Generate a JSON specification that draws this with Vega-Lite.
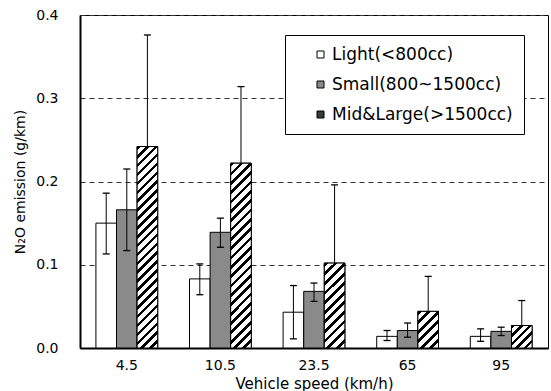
{
  "$schema": "https://vega.github.io/schema/vega-lite/v6.json",
  "width": 468,
  "height": 333,
  "autosize": "none",
  "padding": {"left": 80, "top": 15, "right": 3, "bottom": 43},
  "background": "white",
  "config": {
    "font": "DejaVu Sans",
    "view": {"stroke": "black", "strokeWidth": 1}
  },
  "data": {
    "values": [
      {"speed": "4.5", "type": "Light(<800cc)", "value": 0.150, "lo": 0.113, "hi": 0.186},
      {"speed": "4.5", "type": "Small(800~1500cc)", "value": 0.166, "lo": 0.117, "hi": 0.215},
      {"speed": "4.5", "type": "Mid&Large(>1500cc)", "value": 0.242, "lo": 0.108, "hi": 0.376},
      {"speed": "10.5", "type": "Light(<800cc)", "value": 0.083, "lo": 0.064, "hi": 0.101},
      {"speed": "10.5", "type": "Small(800~1500cc)", "value": 0.139, "lo": 0.121, "hi": 0.156},
      {"speed": "10.5", "type": "Mid&Large(>1500cc)", "value": 0.222, "lo": 0.130, "hi": 0.314},
      {"speed": "23.5", "type": "Light(<800cc)", "value": 0.043, "lo": 0.011, "hi": 0.075},
      {"speed": "23.5", "type": "Small(800~1500cc)", "value": 0.068, "lo": 0.056, "hi": 0.078},
      {"speed": "23.5", "type": "Mid&Large(>1500cc)", "value": 0.102, "lo": 0.008, "hi": 0.196},
      {"speed": "65", "type": "Light(<800cc)", "value": 0.014, "lo": 0.009, "hi": 0.021},
      {"speed": "65", "type": "Small(800~1500cc)", "value": 0.021, "lo": 0.013, "hi": 0.030},
      {"speed": "65", "type": "Mid&Large(>1500cc)", "value": 0.044, "lo": 0.002, "hi": 0.086},
      {"speed": "95", "type": "Light(<800cc)", "value": 0.014, "lo": 0.008, "hi": 0.023},
      {"speed": "95", "type": "Small(800~1500cc)", "value": 0.020, "lo": 0.015, "hi": 0.025},
      {"speed": "95", "type": "Mid&Large(>1500cc)", "value": 0.027, "lo": 0.000, "hi": 0.057}
    ]
  },
  "encoding": {
    "x": {
      "field": "speed", "type": "nominal",
      "sort": ["4.5", "10.5", "23.5", "65", "95"],
      "scale": {"paddingInner": 0.34, "paddingOuter": 0.17},
      "axis": {
        "title": "Vehicle speed (km/h)", "labelAngle": 0, "labelFontSize": 14,
        "titleFontSize": 15, "titleFontWeight": "normal", "titlePadding": 4,
        "ticks": false, "labelPadding": 10, "domainWidth": 2, "domainColor": "black",
        "labelColor": "black", "titleColor": "black"
      }
    },
    "xOffset": {
      "field": "type", "type": "nominal",
      "scale": {"domain": ["Light(<800cc)", "Small(800~1500cc)", "Mid&Large(>1500cc)"], "paddingInner": 0, "paddingOuter": 0}
    }
  },
  "layer": [
    {
      "mark": {"type": "bar", "stroke": "black", "strokeWidth": 1},
      "encoding": {
        "y": {
          "field": "value", "type": "quantitative",
          "scale": {"domain": [0, 0.4], "nice": false},
          "axis": {
            "title": "N₂O emission (g/km)", "titleFontSize": 14, "titleFontWeight": "normal",
            "titlePadding": 8, "values": [0, 0.1, 0.2, 0.3, 0.4], "format": ".1f",
            "labelFontSize": 14, "ticks": false, "labelPadding": 22,
            "grid": true, "gridDash": [5, 4], "gridColor": "#333", "gridWidth": 1,
            "domainWidth": 2, "domainColor": "black", "labelColor": "black", "titleColor": "black"
          }
        },
        "fill": {
          "field": "type", "type": "nominal",
          "scale": {
            "domain": ["Light(<800cc)", "Small(800~1500cc)", "Mid&Large(>1500cc)"],
            "range": ["white", "#8a8a8a", "#3a3a3a"]
          },
          "legend": {
            "orient": "none", "legendX": 205, "legendY": 20, "title": null,
            "strokeColor": "black", "fillColor": "white", "padding": 11,
            "symbolType": "square", "symbolSize": 49, "symbolStrokeColor": "black",
            "symbolStrokeWidth": 1, "symbolOffset": 16, "labelFontSize": 17,
            "labelColor": "black", "rowPadding": 12, "labelOffset": 3, "labelLimit": 300
          }
        }
      }
    },
    {
      "transform": [{"filter": {"and": [{"field": "type", "equal": "Mid&Large(>1500cc)"}, {"field": "speed", "equal": "4.5"}]}}],
      "mark": {"type": "bar", "stroke": "black", "strokeWidth": 1, "fill": {"gradient": "linear", "x1": 0, "y1": 0, "x2": 0.1115, "y2": 1.0908, "stops": [
        {"offset": 0, "color": "#000"}, {"offset": 0.016, "color": "#000"}, {"offset": 0.016, "color": "#fff"}, {"offset": 0.04, "color": "#fff"},
        {"offset": 0.04, "color": "#000"}, {"offset": 0.056, "color": "#000"}, {"offset": 0.056, "color": "#fff"}, {"offset": 0.08, "color": "#fff"},
        {"offset": 0.08, "color": "#000"}, {"offset": 0.096, "color": "#000"}, {"offset": 0.096, "color": "#fff"}, {"offset": 0.12, "color": "#fff"},
        {"offset": 0.12, "color": "#000"}, {"offset": 0.136, "color": "#000"}, {"offset": 0.136, "color": "#fff"}, {"offset": 0.16, "color": "#fff"},
        {"offset": 0.16, "color": "#000"}, {"offset": 0.176, "color": "#000"}, {"offset": 0.176, "color": "#fff"}, {"offset": 0.2, "color": "#fff"},
        {"offset": 0.2, "color": "#000"}, {"offset": 0.216, "color": "#000"}, {"offset": 0.216, "color": "#fff"}, {"offset": 0.24, "color": "#fff"},
        {"offset": 0.24, "color": "#000"}, {"offset": 0.256, "color": "#000"}, {"offset": 0.256, "color": "#fff"}, {"offset": 0.28, "color": "#fff"},
        {"offset": 0.28, "color": "#000"}, {"offset": 0.296, "color": "#000"}, {"offset": 0.296, "color": "#fff"}, {"offset": 0.32, "color": "#fff"},
        {"offset": 0.32, "color": "#000"}, {"offset": 0.336, "color": "#000"}, {"offset": 0.336, "color": "#fff"}, {"offset": 0.36, "color": "#fff"},
        {"offset": 0.36, "color": "#000"}, {"offset": 0.376, "color": "#000"}, {"offset": 0.376, "color": "#fff"}, {"offset": 0.4, "color": "#fff"},
        {"offset": 0.4, "color": "#000"}, {"offset": 0.416, "color": "#000"}, {"offset": 0.416, "color": "#fff"}, {"offset": 0.44, "color": "#fff"},
        {"offset": 0.44, "color": "#000"}, {"offset": 0.456, "color": "#000"}, {"offset": 0.456, "color": "#fff"}, {"offset": 0.48, "color": "#fff"},
        {"offset": 0.48, "color": "#000"}, {"offset": 0.496, "color": "#000"}, {"offset": 0.496, "color": "#fff"}, {"offset": 0.52, "color": "#fff"},
        {"offset": 0.52, "color": "#000"}, {"offset": 0.536, "color": "#000"}, {"offset": 0.536, "color": "#fff"}, {"offset": 0.56, "color": "#fff"},
        {"offset": 0.56, "color": "#000"}, {"offset": 0.576, "color": "#000"}, {"offset": 0.576, "color": "#fff"}, {"offset": 0.6, "color": "#fff"},
        {"offset": 0.6, "color": "#000"}, {"offset": 0.616, "color": "#000"}, {"offset": 0.616, "color": "#fff"}, {"offset": 0.64, "color": "#fff"},
        {"offset": 0.64, "color": "#000"}, {"offset": 0.656, "color": "#000"}, {"offset": 0.656, "color": "#fff"}, {"offset": 0.68, "color": "#fff"},
        {"offset": 0.68, "color": "#000"}, {"offset": 0.696, "color": "#000"}, {"offset": 0.696, "color": "#fff"}, {"offset": 0.72, "color": "#fff"},
        {"offset": 0.72, "color": "#000"}, {"offset": 0.736, "color": "#000"}, {"offset": 0.736, "color": "#fff"}, {"offset": 0.76, "color": "#fff"},
        {"offset": 0.76, "color": "#000"}, {"offset": 0.776, "color": "#000"}, {"offset": 0.776, "color": "#fff"}, {"offset": 0.8, "color": "#fff"},
        {"offset": 0.8, "color": "#000"}, {"offset": 0.816, "color": "#000"}, {"offset": 0.816, "color": "#fff"}, {"offset": 0.84, "color": "#fff"},
        {"offset": 0.84, "color": "#000"}, {"offset": 0.856, "color": "#000"}, {"offset": 0.856, "color": "#fff"}, {"offset": 0.88, "color": "#fff"},
        {"offset": 0.88, "color": "#000"}, {"offset": 0.896, "color": "#000"}, {"offset": 0.896, "color": "#fff"}, {"offset": 0.92, "color": "#fff"},
        {"offset": 0.92, "color": "#000"}, {"offset": 0.936, "color": "#000"}, {"offset": 0.936, "color": "#fff"}, {"offset": 0.96, "color": "#fff"},
        {"offset": 0.96, "color": "#000"}, {"offset": 0.976, "color": "#000"}, {"offset": 0.976, "color": "#fff"}, {"offset": 1, "color": "#fff"}
      ]}},
      "encoding": {"y": {"field": "value", "type": "quantitative"}}
    },
    {
      "transform": [{"filter": {"and": [{"field": "type", "equal": "Mid&Large(>1500cc)"}, {"field": "speed", "equal": "10.5"}]}}],
      "mark": {"type": "bar", "stroke": "black", "strokeWidth": 1, "fill": {"gradient": "linear", "x1": 0, "y1": 0, "x2": 0.1224, "y2": 1.0978, "stops": [
        {"offset": 0, "color": "#000"}, {"offset": 0.01818, "color": "#000"}, {"offset": 0.01818, "color": "#fff"}, {"offset": 0.04545, "color": "#fff"},
        {"offset": 0.04545, "color": "#000"}, {"offset": 0.06364, "color": "#000"}, {"offset": 0.06364, "color": "#fff"}, {"offset": 0.09091, "color": "#fff"},
        {"offset": 0.09091, "color": "#000"}, {"offset": 0.10909, "color": "#000"}, {"offset": 0.10909, "color": "#fff"}, {"offset": 0.13636, "color": "#fff"},
        {"offset": 0.13636, "color": "#000"}, {"offset": 0.15455, "color": "#000"}, {"offset": 0.15455, "color": "#fff"}, {"offset": 0.18182, "color": "#fff"},
        {"offset": 0.18182, "color": "#000"}, {"offset": 0.2, "color": "#000"}, {"offset": 0.2, "color": "#fff"}, {"offset": 0.22727, "color": "#fff"},
        {"offset": 0.22727, "color": "#000"}, {"offset": 0.24545, "color": "#000"}, {"offset": 0.24545, "color": "#fff"}, {"offset": 0.27273, "color": "#fff"},
        {"offset": 0.27273, "color": "#000"}, {"offset": 0.29091, "color": "#000"}, {"offset": 0.29091, "color": "#fff"}, {"offset": 0.31818, "color": "#fff"},
        {"offset": 0.31818, "color": "#000"}, {"offset": 0.33636, "color": "#000"}, {"offset": 0.33636, "color": "#fff"}, {"offset": 0.36364, "color": "#fff"},
        {"offset": 0.36364, "color": "#000"}, {"offset": 0.38182, "color": "#000"}, {"offset": 0.38182, "color": "#fff"}, {"offset": 0.40909, "color": "#fff"},
        {"offset": 0.40909, "color": "#000"}, {"offset": 0.42727, "color": "#000"}, {"offset": 0.42727, "color": "#fff"}, {"offset": 0.45455, "color": "#fff"},
        {"offset": 0.45455, "color": "#000"}, {"offset": 0.47273, "color": "#000"}, {"offset": 0.47273, "color": "#fff"}, {"offset": 0.5, "color": "#fff"},
        {"offset": 0.5, "color": "#000"}, {"offset": 0.51818, "color": "#000"}, {"offset": 0.51818, "color": "#fff"}, {"offset": 0.54545, "color": "#fff"},
        {"offset": 0.54545, "color": "#000"}, {"offset": 0.56364, "color": "#000"}, {"offset": 0.56364, "color": "#fff"}, {"offset": 0.59091, "color": "#fff"},
        {"offset": 0.59091, "color": "#000"}, {"offset": 0.60909, "color": "#000"}, {"offset": 0.60909, "color": "#fff"}, {"offset": 0.63636, "color": "#fff"},
        {"offset": 0.63636, "color": "#000"}, {"offset": 0.65455, "color": "#000"}, {"offset": 0.65455, "color": "#fff"}, {"offset": 0.68182, "color": "#fff"},
        {"offset": 0.68182, "color": "#000"}, {"offset": 0.7, "color": "#000"}, {"offset": 0.7, "color": "#fff"}, {"offset": 0.72727, "color": "#fff"},
        {"offset": 0.72727, "color": "#000"}, {"offset": 0.74545, "color": "#000"}, {"offset": 0.74545, "color": "#fff"}, {"offset": 0.77273, "color": "#fff"},
        {"offset": 0.77273, "color": "#000"}, {"offset": 0.79091, "color": "#000"}, {"offset": 0.79091, "color": "#fff"}, {"offset": 0.81818, "color": "#fff"},
        {"offset": 0.81818, "color": "#000"}, {"offset": 0.83636, "color": "#000"}, {"offset": 0.83636, "color": "#fff"}, {"offset": 0.86364, "color": "#fff"},
        {"offset": 0.86364, "color": "#000"}, {"offset": 0.88182, "color": "#000"}, {"offset": 0.88182, "color": "#fff"}, {"offset": 0.90909, "color": "#fff"},
        {"offset": 0.90909, "color": "#000"}, {"offset": 0.92727, "color": "#000"}, {"offset": 0.92727, "color": "#fff"}, {"offset": 0.95455, "color": "#fff"},
        {"offset": 0.95455, "color": "#000"}, {"offset": 0.97273, "color": "#000"}, {"offset": 0.97273, "color": "#fff"}, {"offset": 1, "color": "#fff"}
      ]}},
      "encoding": {"y": {"field": "value", "type": "quantitative"}}
    },
    {
      "transform": [{"filter": {"and": [{"field": "type", "equal": "Mid&Large(>1500cc)"}, {"field": "speed", "equal": "23.5"}]}}],
      "mark": {"type": "bar", "stroke": "black", "strokeWidth": 1, "fill": {"gradient": "linear", "x1": 0, "y1": 0, "x2": 0.2832, "y2": 1.173, "stops": [
        {"offset": 0, "color": "#000"}, {"offset": 0.03636, "color": "#000"}, {"offset": 0.03636, "color": "#fff"}, {"offset": 0.09091, "color": "#fff"},
        {"offset": 0.09091, "color": "#000"}, {"offset": 0.12727, "color": "#000"}, {"offset": 0.12727, "color": "#fff"}, {"offset": 0.18182, "color": "#fff"},
        {"offset": 0.18182, "color": "#000"}, {"offset": 0.21818, "color": "#000"}, {"offset": 0.21818, "color": "#fff"}, {"offset": 0.27273, "color": "#fff"},
        {"offset": 0.27273, "color": "#000"}, {"offset": 0.30909, "color": "#000"}, {"offset": 0.30909, "color": "#fff"}, {"offset": 0.36364, "color": "#fff"},
        {"offset": 0.36364, "color": "#000"}, {"offset": 0.4, "color": "#000"}, {"offset": 0.4, "color": "#fff"}, {"offset": 0.45455, "color": "#fff"},
        {"offset": 0.45455, "color": "#000"}, {"offset": 0.49091, "color": "#000"}, {"offset": 0.49091, "color": "#fff"}, {"offset": 0.54545, "color": "#fff"},
        {"offset": 0.54545, "color": "#000"}, {"offset": 0.58182, "color": "#000"}, {"offset": 0.58182, "color": "#fff"}, {"offset": 0.63636, "color": "#fff"},
        {"offset": 0.63636, "color": "#000"}, {"offset": 0.67273, "color": "#000"}, {"offset": 0.67273, "color": "#fff"}, {"offset": 0.72727, "color": "#fff"},
        {"offset": 0.72727, "color": "#000"}, {"offset": 0.76364, "color": "#000"}, {"offset": 0.76364, "color": "#fff"}, {"offset": 0.81818, "color": "#fff"},
        {"offset": 0.81818, "color": "#000"}, {"offset": 0.85455, "color": "#000"}, {"offset": 0.85455, "color": "#fff"}, {"offset": 0.90909, "color": "#fff"},
        {"offset": 0.90909, "color": "#000"}, {"offset": 0.94545, "color": "#000"}, {"offset": 0.94545, "color": "#fff"}, {"offset": 1, "color": "#fff"}
      ]}},
      "encoding": {"y": {"field": "value", "type": "quantitative"}}
    },
    {
      "transform": [{"filter": {"and": [{"field": "type", "equal": "Mid&Large(>1500cc)"}, {"field": "speed", "equal": "65"}]}}],
      "mark": {"type": "bar", "stroke": "black", "strokeWidth": 1, "fill": {"gradient": "linear", "x1": 0, "y1": 0, "x2": 0.6675, "y2": 1.1868, "stops": [
        {"offset": 0, "color": "#000"}, {"offset": 0.06667, "color": "#000"}, {"offset": 0.06667, "color": "#fff"}, {"offset": 0.16667, "color": "#fff"},
        {"offset": 0.16667, "color": "#000"}, {"offset": 0.23333, "color": "#000"}, {"offset": 0.23333, "color": "#fff"}, {"offset": 0.33333, "color": "#fff"},
        {"offset": 0.33333, "color": "#000"}, {"offset": 0.4, "color": "#000"}, {"offset": 0.4, "color": "#fff"}, {"offset": 0.5, "color": "#fff"},
        {"offset": 0.5, "color": "#000"}, {"offset": 0.56667, "color": "#000"}, {"offset": 0.56667, "color": "#fff"}, {"offset": 0.66667, "color": "#fff"},
        {"offset": 0.66667, "color": "#000"}, {"offset": 0.73333, "color": "#000"}, {"offset": 0.73333, "color": "#fff"}, {"offset": 0.83333, "color": "#fff"},
        {"offset": 0.83333, "color": "#000"}, {"offset": 0.9, "color": "#000"}, {"offset": 0.9, "color": "#fff"}, {"offset": 1, "color": "#fff"}
      ]}},
      "encoding": {"y": {"field": "value", "type": "quantitative"}}
    },
    {
      "transform": [{"filter": {"and": [{"field": "type", "equal": "Mid&Large(>1500cc)"}, {"field": "speed", "equal": "95"}]}}],
      "mark": {"type": "bar", "stroke": "black", "strokeWidth": 1, "fill": {"gradient": "linear", "x1": 0, "y1": 0, "x2": 0.9544, "y2": 1.0413, "stops": [
        {"offset": 0, "color": "#000"}, {"offset": 0.08, "color": "#000"}, {"offset": 0.08, "color": "#fff"}, {"offset": 0.2, "color": "#fff"},
        {"offset": 0.2, "color": "#000"}, {"offset": 0.28, "color": "#000"}, {"offset": 0.28, "color": "#fff"}, {"offset": 0.4, "color": "#fff"},
        {"offset": 0.4, "color": "#000"}, {"offset": 0.48, "color": "#000"}, {"offset": 0.48, "color": "#fff"}, {"offset": 0.6, "color": "#fff"},
        {"offset": 0.6, "color": "#000"}, {"offset": 0.68, "color": "#000"}, {"offset": 0.68, "color": "#fff"}, {"offset": 0.8, "color": "#fff"},
        {"offset": 0.8, "color": "#000"}, {"offset": 0.88, "color": "#000"}, {"offset": 0.88, "color": "#fff"}, {"offset": 1, "color": "#fff"}
      ]}},
      "encoding": {"y": {"field": "value", "type": "quantitative"}}
    },
    {
      "transform": [{"filter": {"field": "type", "oneOf": ["Light(<800cc)", "Small(800~1500cc)"]}}],
      "mark": {"type": "rule", "stroke": "black", "strokeWidth": 1},
      "encoding": {"y": {"field": "lo", "type": "quantitative"}, "y2": {"field": "hi"}}
    },
    {
      "transform": [{"filter": {"field": "type", "equal": "Mid&Large(>1500cc)"}}],
      "mark": {"type": "rule", "stroke": "black", "strokeWidth": 1},
      "encoding": {"y": {"field": "value", "type": "quantitative"}, "y2": {"field": "hi"}}
    },
    {
      "mark": {"type": "tick", "color": "black", "size": 7, "thickness": 1.3, "opacity": 1},
      "encoding": {"y": {"field": "hi", "type": "quantitative"}}
    },
    {
      "transform": [{"filter": {"field": "type", "oneOf": ["Light(<800cc)", "Small(800~1500cc)"]}}],
      "mark": {"type": "tick", "color": "black", "size": 7, "thickness": 1.3, "opacity": 1},
      "encoding": {"y": {"field": "lo", "type": "quantitative"}}
    }
  ]
}
